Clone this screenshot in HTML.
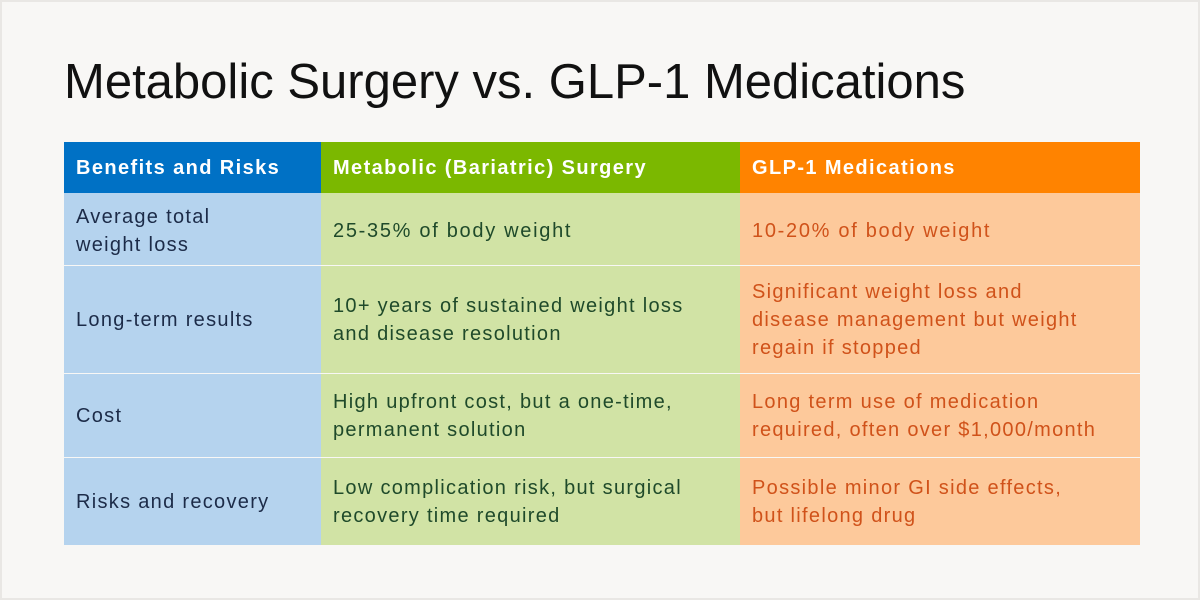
<!DOCTYPE html>
<html><head><style>
body{margin:0;}
#p{position:relative;width:1196px;height:596px;background:#f8f7f5;border:2px solid #e9e7e4;overflow:hidden;font-family:"Liberation Sans",sans-serif;}
h1{position:absolute;left:62px;top:52px;margin:0;font-weight:normal;font-size:49px;color:#111;letter-spacing:0px;}
.c{position:absolute;display:flex;align-items:center;box-sizing:border-box;padding-left:12px;font-size:20px;line-height:28px;letter-spacing:1.3px;}
.h{font-weight:bold;color:#fff;letter-spacing:1.4px;}
.b{background:#b5d3ee;color:#1c2b48;}
.g{background:#d1e3a5;color:#1f4a2a;}
.o{background:#fdc99b;color:#d0521a;}
</style></head><body><div id="p">
<h1>Metabolic Surgery vs. GLP-1 Medications</h1>
<div class="c h" style="left:62px;top:140px;width:257px;height:51px;background:#0071c5">Benefits and Risks</div>
<div class="c h" style="left:319px;top:140px;width:419px;height:51px;background:#7bb800">Metabolic (Bariatric) Surgery</div>
<div class="c h" style="left:738px;top:140px;width:400px;height:51px;background:#ff8300">GLP-1 Medications</div>

<div class="c b" style="left:62px;top:191px;width:257px;height:72px;padding-top:4px">Average total<br>weight loss</div>
<div class="c g" style="left:319px;top:191px;width:419px;height:72px;padding-top:4px;letter-spacing:1.7px">25-35% of body weight</div>
<div class="c o" style="left:738px;top:191px;width:400px;height:72px;padding-top:4px;letter-spacing:1.7px">10-20% of body weight</div>

<div class="c b" style="left:62px;top:264px;width:257px;height:107px">Long-term results</div>
<div class="c g" style="left:319px;top:264px;width:419px;height:107px">10+ years of sustained weight loss<br>and disease resolution</div>
<div class="c o" style="left:738px;top:264px;width:400px;height:107px">Significant weight loss and<br>disease management but weight<br>regain if stopped</div>

<div class="c b" style="left:62px;top:372px;width:257px;height:83px">Cost</div>
<div class="c g" style="left:319px;top:372px;width:419px;height:83px">High upfront cost, but a one-time,<br>permanent solution</div>
<div class="c o" style="left:738px;top:372px;width:400px;height:83px">Long term use of medication<br>required, often over $1,000/month</div>

<div class="c b" style="left:62px;top:456px;width:257px;height:87px">Risks and recovery</div>
<div class="c g" style="left:319px;top:456px;width:419px;height:87px">Low complication risk, but surgical<br>recovery time required</div>
<div class="c o" style="left:738px;top:456px;width:400px;height:87px">Possible minor GI side effects,<br>but lifelong drug</div>
</div></body></html>
